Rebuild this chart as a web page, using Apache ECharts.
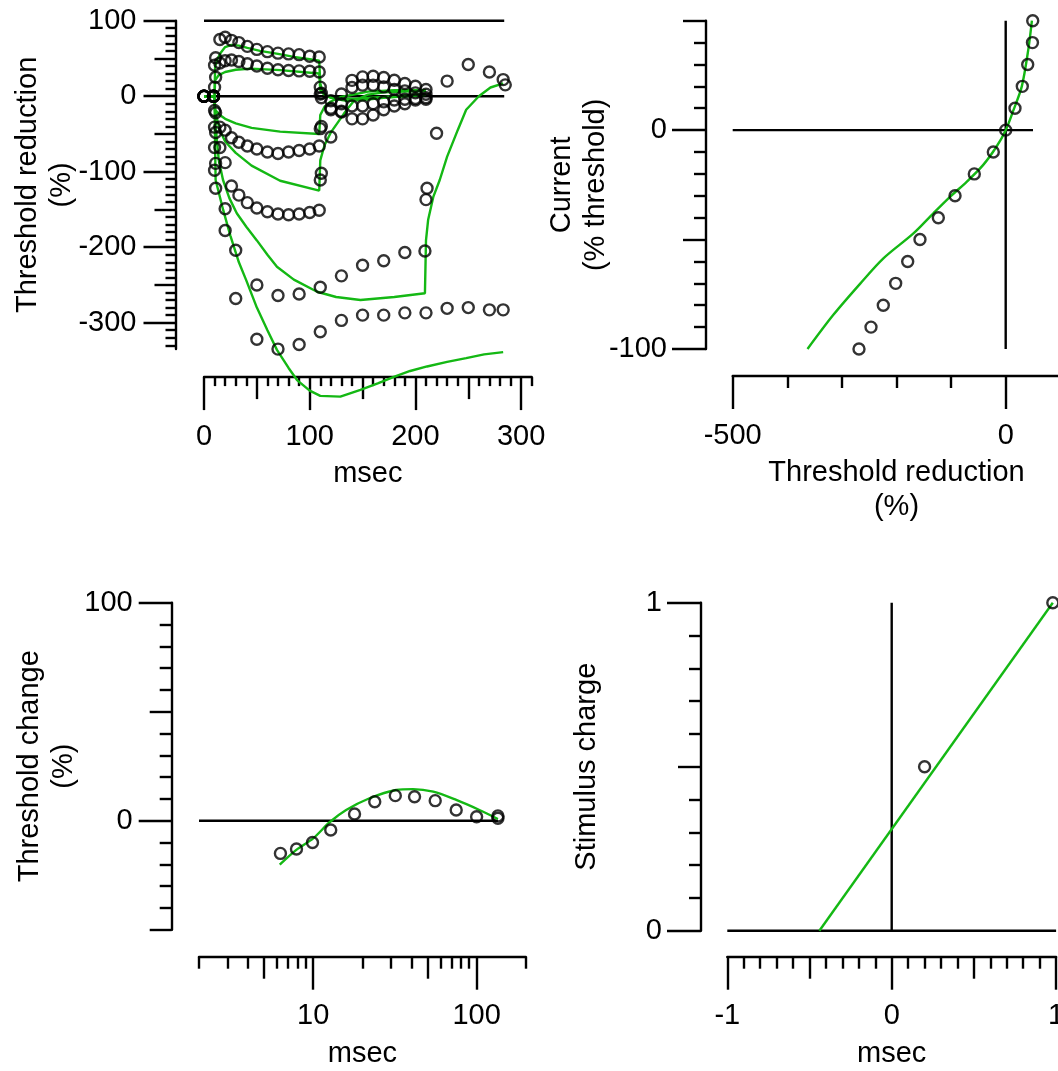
<!DOCTYPE html>
<html>
<head>
<meta charset="utf-8">
<title>Nerve excitability</title>
<script src="https://cdn.jsdelivr.net/npm/echarts@6/dist/echarts.min.js"></script>
<style>
	html, body { margin: 0; padding: 0; background: #fff; }
	#chart { width: 1058px; height: 1071px; }
</style>
</head>
<body>
<div id="chart"></div>
<script>
	// threshold electrotonus, 100 ms pulses (msec)
	const teTime = [0, 9, 10, 11, 15, 20, 26, 33, 41, 50, 60, 70, 80, 90, 100, 109, 110, 111, 120, 130, 140, 150, 160, 170, 180, 190, 200, 210];
	const teDep40 = [0, 0, 41, 51, 75, 78, 74, 71, 66, 62, 59, 57, 56, 55, 53, 52, 12, 4, -16, -21, -30, -30, -25, -18, -13, -10, -5, -4];
	const teDep20 = [0, 0, 12, 25, 44, 47, 48, 46, 43, 40, 37, 35, 34, 33.5, 33, 32, 3, -2, -6, -10, -13, -13, -10, -7.5, -5, -4, -3, -2];
	const teHyp20 = [0, 0, -19, -22, -41, -45, -55, -61, -66, -70, -74, -76, -74, -72, -70, -66, -43, -40, -18, 3, 11.5, 14.6, 14.6, 12.3, 9, 7, 4.4, 2.6];
	const teHyp40 = [0, 0, -41, -48, -68, -88, -119, -131, -141, -148, -153, -156, -157, -156, -154, -151, -111, -102, -54, -20, 21, 25.6, 26.5, 24.8, 21.2, 16.8, 13.2, 8.8];

	// long hyperpolarizing pulses
	const longTimeA = [0, 9, 10, 11, 20, 30, 50, 70, 90, 110, 130, 150, 170, 190, 209, 210, 211, 220, 230, 250, 270, 283, 285];
	const longValA = [0, 0, -68, -89, -149, -204, -250, -264, -262, -253, -238, -224, -218, -207, -205, -137, -122, -49, 20, 42, 32, 22, 15];
	const longTimeB = [0, 9, 10, 11, 20, 30, 50, 70, 90, 110, 130, 150, 170, 190, 210, 230, 250, 270, 283];
	const longValB = [0, 0, -98, -122, -178, -268, -322, -335, -329, -312, -297, -290, -290, -287, -287, -281, -280, -283, -283];

	// model fits [msec, %]
	const fitDep40 = [[0, 0], [10, 0], [10.5, 39], [13, 50], [16, 58], [20, 65], [26, 68], [33, 67], [41, 64], [53, 60], [70, 56], [85, 52], [100, 49], [109, 47], [110, 17], [112, 6], [116, 0], [122, -3], [135, -6], [150, -5], [170, -2], [190, 0], [210, 2]];
	const fitDep20 = [[0, 0], [10, 0], [10.5, 21], [14, 28], [20, 32], [30, 35], [45, 36.5], [72, 34.5], [109, 30], [110, 8], [113, 3], [120, -2], [140, -3.5], [170, -1], [210, 3]];
	const fitHyp20 = [[0, 0], [10, 0], [10.5, -18], [15, -25], [20, -30], [30, -36], [45, -42], [72, -47], [109, -50], [110, -25], [114, -14], [120, -7], [130, -1], [155, 6], [180, 8], [210, 8]];
	const fitHyp40 = [[0, 0], [10, 0], [10.5, -20], [15, -45], [20, -60], [30, -75], [45, -92], [72, -112], [109, -125], [110, -85], [114, -65], [120, -48], [127, -34], [135, -18], [142, -6], [155, 2], [170, 5], [210, 7]];
	const fitLongA = [[0, 0], [10, 0], [11, -40], [14, -85], [18, -111], [24, -135], [31, -155], [40, -173], [50, -191], [60, -210], [69, -226], [85, -243], [107, -259], [125, -266], [148, -270], [180, -266], [209, -261], [210, -191], [212, -164], [217, -133], [223, -111], [230, -80], [240, -45], [248, -18], [260, 0], [271, 11.5], [283, 17]];
	const fitLongB = [[0, 0], [10, 0], [10.4, -60], [11, -111], [13.5, -125], [18, -150], [25, -185], [33, -220], [40, -244], [50, -280], [60, -310], [69, -336], [80, -360], [88, -376], [100, -390], [110, -397], [129, -398], [148, -389], [165, -380], [179, -372], [195, -364], [211, -358], [230, -352], [248, -347], [265, -342], [283, -339]];
	const teRefEnd = 284;

	// current / threshold
	const ivCurrent = [50, 40, 30, 20, 10, 0, -10, -20, -30, -40, -50, -60, -70, -80, -90, -100];
	const ivThresh = [49.5, 49, 40.3, 30.4, 17, 0, -22.7, -57.5, -92.8, -123.4, -157, -179.5, -201.5, -224.2, -246.7, -268.7];
	const fitIvCurrent = [50, 37, 20, 9, 0, -7.6, -16, -23.6, -30.5, -38, -47.2, -58.6, -70, -84.5, -100];
	const fitIvThresh = [48, 41.5, 29.5, 14, 0, -17, -41.5, -71.5, -102, -132.5, -169, -224, -266, -316, -363];

	// recovery cycle
	const rcInterval = [6.3, 7.9, 9.9, 12.8, 17.9, 23.8, 31.8, 41.7, 55.8, 75, 100, 135, 135];
	const rcChange = [-15, -13, -10, -4.3, 3.1, 8.7, 11.5, 11, 9.2, 4.9, 1.8, 1.1, 2.2];
	const fitRcInterval = [6.24, 7.88, 10, 12.6, 15.9, 22.1, 32.2, 40.8, 54.3, 75.1, 104, 135];
	const fitRcChange = [-20.2, -13.4, -8.1, -0.7, 4.9, 10.3, 14.1, 14.5, 13.3, 9.5, 4.9, 0.8];

	// charge / duration
	const qDuration = [0.2, 0.98];
	const qCharge = [0.5, 1];
	const fitQDuration = [-0.44, 0.98];
	const fitQCharge = [0, 1];

	// tick marks
	const teTicksX = [0, 100, 200, 300];
	const teTicksY = [-300, -200, -100, 0, 100];
	const ivTicksX = [-500, 0];
	const ivTicksY = [-100, 0];
	const rcTicksX = [10, 100];
	const rcTicksY = [0, 100];
	const qTicksX = [-1, 0, 1];
	const qTicksY = [0, 1];

	const FONT = 'Liberation Sans, Arial, Helvetica, sans-serif';
	const BLACK = '#000';
	const GREEN = '#14b814';
	const STROKE = 2.4;

	function pairs(xs, ys) {
		return xs.map((x, i) => [x, ys[i]]);
	}

	// every step between from and to that is not in one of the skip lists
	function steps(from, to, step, skip) {
		const out = [];
		for (let i = Math.round(from / step); i <= Math.round(to / step); i++) {
			const v = +(i * step).toFixed(6);
			if (!skip.some(s => Math.abs(s - v) < 1e-9)) out.push(v);
		}
		return out;
	}

	// three stacked axes: long, medium and short ticks
	function axisSet(dim, gridIndex, o) {
		const sets = [o.major, o.medium, o.minor];
		return sets.map((vals, i) => {
			const ax = {
				gridIndex: gridIndex,
				type: 'value',
				position: dim === 'x' ? 'bottom' : 'left',
				min: o.min,
				max: o.max,
				offset: o.offset,
				silent: true,
				splitLine: {show: false},
				axisLine: {show: i === 0, onZero: false, lineStyle: {color: BLACK, width: STROKE}},
				axisTick: {show: vals.length > 0, length: o.lens[i], lineStyle: {color: BLACK, width: STROKE}},
				axisLabel: {show: false}
			};
			if (vals.length) ax.axisTick.customValues = vals;
			if (i === 0) {
				ax.axisLabel = {
					show: true, customValues: o.labels, margin: dim === 'x' ? 45 : 39,
					color: BLACK, fontFamily: FONT, fontSize: 29
				};
				if (o.format) ax.axisLabel.formatter = o.format;
				ax.name = o.name;
				ax.nameLocation = 'middle';
				ax.nameGap = o.nameGap;
				ax.nameMoveOverlap = false;
				ax.nameTextStyle = {color: BLACK, fontFamily: FONT, fontSize: 29, lineHeight: 34};
				if (dim === 'y') ax.nameRotate = 90;
			}
			return ax;
		});
	}

	function line(xi, yi, data, color, smooth) {
		return {
			type: 'line', xAxisIndex: xi, yAxisIndex: yi, data: data,
			symbol: 'none', showSymbol: false, smooth: smooth || false, clip: false, silent: true, z: 2,
			lineStyle: {color: color, width: STROKE}
		};
	}

	function circles(xi, yi, data) {
		return {
			type: 'scatter', xAxisIndex: xi, yAxisIndex: yi, data: data,
			symbol: 'circle', symbolSize: 11, clip: false, silent: true, z: 3,
			itemStyle: {color: 'rgba(0,0,0,0)', borderColor: BLACK, borderWidth: 2.4}
		};
	}

	const log10 = v => Math.log10(v);

	const xAxes = [].concat(
		axisSet('x', 0, {
			min: 0, max: 310, offset: 28, lens: [33, 22, 9],
			major: teTicksX, medium: [50, 150, 250], minor: steps(10, 310, 10, [0, 50, 100, 150, 200, 250, 300]),
			labels: teTicksX, name: 'msec', nameGap: 80
		}),
		axisSet('x', 1, {
			min: -500, max: 100, offset: 27, lens: [33, 22, 12],
			major: [-500, 0, 100], medium: [], minor: [-400, -300, -200, -100],
			labels: ivTicksX, name: 'Threshold reduction\n(%)', nameGap: 80
		}),
		[{gridIndex: 2, type: 'log', logBase: 10, min: 2, max: 200, position: 'bottom', show: false}],
		axisSet('x', 2, {
			min: log10(2), max: log10(200), offset: 27, lens: [33, 22, 12],
			major: rcTicksX.map(log10), medium: [5, 50].map(log10),
			minor: [2, 3, 4, 6, 7, 8, 9, 20, 30, 40, 60, 70, 80, 90, 200].map(log10),
			labels: rcTicksX.map(log10), format: v => String(Math.round(Math.pow(10, v))),
			name: 'msec', nameGap: 80
		}),
		axisSet('x', 3, {
			min: -1, max: 1, offset: 26, lens: [33, 22, 12],
			major: qTicksX, medium: [-0.5, 0.5], minor: steps(-1, 1, 0.1, [-1, -0.5, 0, 0.5, 1]),
			labels: qTicksX, name: 'msec', nameGap: 80
		})
	);

	const yAxes = [].concat(
		axisSet('y', 0, {
			min: -335, max: 100, offset: 28.5, lens: [32, 21, 10],
			major: teTicksY, medium: [-250, -150, -50, 50], minor: steps(-330, 90, 10, steps(-300, 100, 50, [])),
			labels: teTicksY, name: 'Threshold reduction\n(%)', nameGap: 97
		}),
		axisSet('y', 1, {
			min: -100, max: 50, offset: 26.7, lens: [34, 23, 12],
			major: ivTicksY, medium: [-50, 50], minor: steps(-90, 40, 10, [-50, 0]),
			labels: ivTicksY, name: 'Current\n(% threshold)', nameGap: 93
		}),
		axisSet('y', 2, {
			min: -50, max: 100, offset: 27.3, lens: [33, 22, 12],
			major: rcTicksY, medium: [-50, 50], minor: steps(-40, 90, 10, [0, 50]),
			labels: rcTicksY, name: 'Threshold change\n(%)', nameGap: 91
		}),
		axisSet('y', 3, {
			min: 0, max: 1, offset: 26.3, lens: [34, 23, 12],
			major: qTicksY, medium: [0.5], minor: steps(0.1, 0.9, 0.1, [0.5]),
			labels: qTicksY, name: 'Stimulus charge', nameGap: 97
		})
	);

	const grid = [
		{left: 204, top: 20.7, width: 327.7, height: 328.4},
		{left: 732.7, top: 20.7, width: 327.6, height: 328.3},
		{left: 199, top: 602.7, width: 326.8, height: 327},
		{left: 727.3, top: 602.7, width: 328.8, height: 328}
	].map(g => Object.assign(g, {containLabel: false, outerBoundsMode: 'none'}));

	const series = [
		// threshold electrotonus: x 0, y 0
		line(0, 0, [[0, 100], [teRefEnd, 100]], BLACK),
		line(0, 0, [[0, 0], [teRefEnd, 0]], BLACK),
		line(0, 0, fitDep40, GREEN),
		line(0, 0, fitDep20, GREEN),
		line(0, 0, fitHyp20, GREEN),
		line(0, 0, fitHyp40, GREEN),
		line(0, 0, fitLongA, GREEN),
		line(0, 0, fitLongB, GREEN),
		circles(0, 0, pairs(teTime, teDep40)),
		circles(0, 0, pairs(teTime, teDep20)),
		circles(0, 0, pairs(teTime, teHyp20)),
		circles(0, 0, pairs(teTime, teHyp40)),
		circles(0, 0, pairs(longTimeA, longValA)),
		circles(0, 0, pairs(longTimeB, longValB)),

		// current-threshold: x 3, y 3
		line(3, 3, [[-500, 0], [50, 0]], BLACK),
		line(3, 3, [[0, -100], [0, 50]], BLACK),
		line(3, 3, pairs(fitIvThresh, fitIvCurrent), GREEN, 0.3),
		circles(3, 3, pairs(ivThresh, ivCurrent)),

		// recovery cycle: x 6 (log), y 6
		line(6, 6, [[2, 0], [135, 0]], BLACK),
		line(6, 6, pairs(fitRcInterval, fitRcChange), GREEN, 0.3),
		circles(6, 6, pairs(rcInterval, rcChange)),

		// charge-duration: x 10, y 9
		line(10, 9, [[-1, 0], [1, 0]], BLACK),
		line(10, 9, [[0, 0], [0, 1]], BLACK),
		line(10, 9, pairs(fitQDuration, fitQCharge), GREEN),
		circles(10, 9, pairs(qDuration, qCharge))
	];

	const chart = echarts.init(document.getElementById('chart'), null, {renderer: 'canvas', width: 1058, height: 1071});
	chart.setOption({
		animation: false,
		backgroundColor: '#fff',
		textStyle: {fontFamily: FONT},
		grid: grid,
		xAxis: xAxes,
		yAxis: yAxes,
		series: series
	});
</script>
</body>
</html>
